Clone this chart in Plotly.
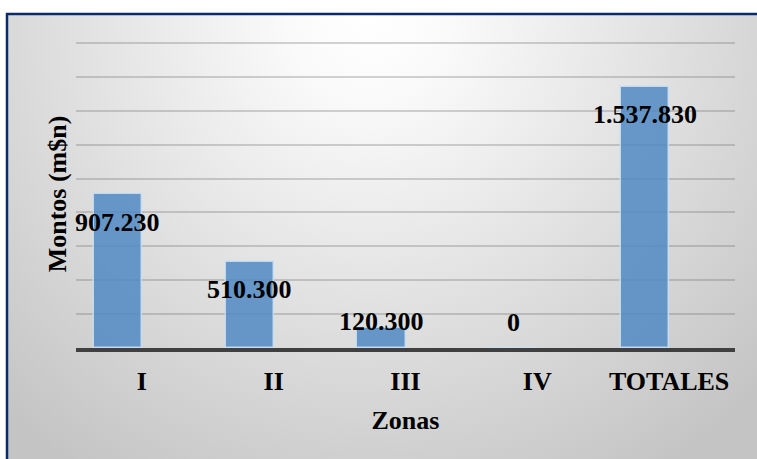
import base64
import plotly.graph_objects as go

# datos
zonas = ["I", "II", "III", "IV", "TOTALES"]
montos = [907230, 510300, 120300, 0, 1537830]
etiquetas = ["907.230", "510.300", "120.300", "0", "1.537.830"]

W, H = 757, 459
L, R, T, B = 76, 22, 40, 111

# fondo degradado (svg embebido)
svg = (
    f'<svg xmlns="http://www.w3.org/2000/svg" width="{W}" height="{H}">'
    '<defs><radialGradient id="g" cx="370" cy="14" r="540" gradientUnits="userSpaceOnUse">'
    '<stop offset="0" stop-color="#ffffff"/><stop offset="0.15" stop-color="#fafafa"/>'
    '<stop offset="1" stop-color="#c4c4c4"/></radialGradient></defs>'
    f'<rect width="{W}" height="{H}" fill="#ffffff"/>'
    f'<rect x="7" y="14" width="{W + 20}" height="{H + 20}" fill="url(#g)" '
    'stroke="#0b2a6c" stroke-width="2.5"/></svg>'
)
src = "data:image/svg+xml;base64," + base64.b64encode(svg.encode()).decode()

pw, ph = W - L - R, H - T - B

fig = go.Figure(
    go.Bar(
        x=zonas,
        y=montos,
        width=0.365,
        offset=-0.365,
        marker=dict(color="rgba(80,138,195,0.85)",
                    line=dict(color="rgba(205,225,245,0.85)", width=1.5)),
        hoverinfo="x+y",
    )
)

font_b = dict(family="Times New Roman, Liberation Serif, serif", size=26,
              color="black", weight="bold")

# etiquetas de datos
shifts = [-28, -28, 6, 26, -27]
for z, v, t, s in zip(zonas, montos, etiquetas, shifts):
    fig.add_annotation(x=z, y=v, text=t, showarrow=False, xshift=-24, yshift=s,
                       font=font_b, xanchor="center", yanchor="middle")

fig.add_layout_image(
    source=src, xref="paper", yref="paper",
    x=-L / pw, y=1 + T / ph, sizex=W / pw, sizey=H / ph,
    xanchor="left", yanchor="top", sizing="stretch", layer="below",
)

fig.update_layout(
    width=W, height=H,
    margin=dict(l=L, r=R, t=T, b=B),
    paper_bgcolor="white",
    plot_bgcolor="rgba(0,0,0,0)",
    showlegend=False,
    bargap=0,
    xaxis=dict(
        range=[-0.5, 4.5], showline=True, linecolor="#404040", linewidth=4,
        showgrid=False, ticks="", tickfont=font_b, automargin=False,
        ticklabelstandoff=7,
        title=dict(text="Zonas", font=font_b, standoff=17),
    ),
    yaxis=dict(
        range=[0, 1818000], tick0=0, dtick=200000, showticklabels=False,
        gridcolor="rgba(110,110,110,0.3)", gridwidth=2, zeroline=False,
        automargin=False,
        title=dict(text="Montos (m$n)", font=font_b, standoff=0),
    ),
)

fig.write_html("out.html", config={"displayModeBar": False},
               post_script="document.body.style.margin='0';")
